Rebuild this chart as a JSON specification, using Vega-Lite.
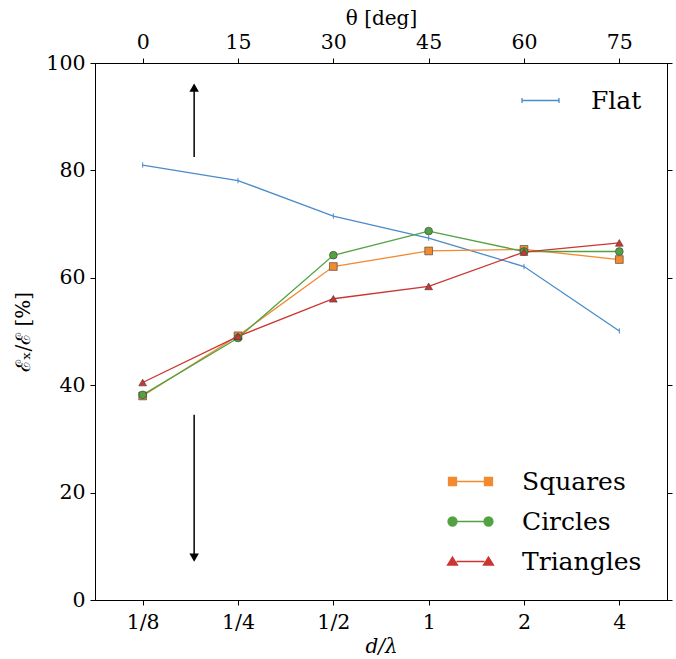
{
  "$schema": "https://vega.github.io/schema/vega-lite/v6.json",
  "width": 572,
  "height": 537,
  "autosize": "none",
  "padding": {"left": 95, "top": 63, "right": 9, "bottom": 59},
  "config": {
    "font": "DejaVu Serif",
    "view": {"stroke": "black", "strokeWidth": 1},
    "axis": {
      "labelFont": "DejaVu Serif", "labelFontSize": 20.5, "labelColor": "black",
      "titleFont": "DejaVu Serif", "titleFontSize": 20, "titleFontWeight": "normal", "titleColor": "black",
      "tickColor": "black", "domainColor": "black", "tickSize": 5, "grid": false, "labelPadding": 5
    },
    "legend": {"labelFont": "DejaVu Serif", "labelFontSize": 25, "labelColor": "black", "padding": 0}
  },
  "datasets": {
    "pts": [
      {"series": "Flat", "i": 0, "y": 81.0, "lo": 80.5, "hi": 81.5},
      {"series": "Flat", "i": 1, "y": 78.1, "lo": 77.6, "hi": 78.6},
      {"series": "Flat", "i": 2, "y": 71.5, "lo": 71.0, "hi": 72.0},
      {"series": "Flat", "i": 3, "y": 67.4, "lo": 66.9, "hi": 67.9},
      {"series": "Flat", "i": 4, "y": 62.1, "lo": 61.6, "hi": 62.6},
      {"series": "Flat", "i": 5, "y": 50.1, "lo": 49.6, "hi": 50.6},
      {"series": "Squares", "i": 0, "y": 38.0},
      {"series": "Squares", "i": 1, "y": 49.2},
      {"series": "Squares", "i": 2, "y": 62.1},
      {"series": "Squares", "i": 3, "y": 65.0},
      {"series": "Squares", "i": 4, "y": 65.3},
      {"series": "Squares", "i": 5, "y": 63.4},
      {"series": "Circles", "i": 0, "y": 38.2},
      {"series": "Circles", "i": 1, "y": 48.8},
      {"series": "Circles", "i": 2, "y": 64.2},
      {"series": "Circles", "i": 3, "y": 68.7},
      {"series": "Circles", "i": 4, "y": 64.9},
      {"series": "Circles", "i": 5, "y": 64.9},
      {"series": "Triangles", "i": 0, "y": 40.5},
      {"series": "Triangles", "i": 1, "y": 49.1},
      {"series": "Triangles", "i": 2, "y": 56.1},
      {"series": "Triangles", "i": 3, "y": 58.4},
      {"series": "Triangles", "i": 4, "y": 64.8},
      {"series": "Triangles", "i": 5, "y": 66.5}
    ],
    "arrows": [
      {"x": 0.54, "y1": 82.5, "y2": 95.0, "tip": 95.4, "dir": "triangle-up"},
      {"x": 0.54, "y1": 34.5, "y2": 8.5, "tip": 7.9, "dir": "triangle-down"}
    ]
  },
  "layer": [
    {
      "data": {"name": "pts"},
      "transform": [{"filter": "datum.series === 'Flat'"}],
      "encoding": {
        "x": {"field": "i", "type": "quantitative", "scale": {"domain": [-0.5, 5.5]}, "axis": null},
        "color": {
          "field": "series", "type": "nominal",
          "scale": {"domain": ["Flat"], "range": ["#4a8bc9"]},
          "legend": {
            "title": null, "orient": "top-right", "offset": 25, "symbolSize": 400, "labelOffset": 38,
            "encode": {"symbols": {"update": {
              "shape": {"value": "M-1.85,0H1.85M-1.85,-0.25V0.25M1.85,-0.25V0.25"},
              "stroke": {"value": "#4a8bc9"}, "fill": {"value": "transparent"},
              "strokeWidth": {"value": 1.3}, "opacity": {"value": 1}, "size": {"value": 400}
            }}}
          }
        }
      },
      "layer": [
        {"mark": {"type": "line", "strokeWidth": 1.3},
         "encoding": {"y": {"field": "y", "type": "quantitative", "axis": null}}},
        {"mark": {"type": "rule", "strokeWidth": 1},
         "encoding": {"y": {"field": "lo", "type": "quantitative", "axis": null}, "y2": {"field": "hi"}}}
      ]
    },
    {
      "data": {"name": "pts"},
      "transform": [{"filter": "datum.series !== 'Flat'"}],
      "encoding": {
        "x": {"field": "i", "type": "quantitative", "scale": {"domain": [-0.5, 5.5]}, "axis": null},
        "y": {"field": "y", "type": "quantitative", "axis": null},
        "color": {
          "field": "series", "type": "nominal",
          "scale": {"domain": ["Squares", "Circles", "Triangles"], "range": ["#f28a30", "#52a241", "#cc3530"]},
          "legend": {
            "title": null, "orient": "bottom-right", "offset": 25, "symbolSize": 400, "labelOffset": 39, "rowPadding": 14,
            "encode": {"symbols": {"update": {
              "shape": {"signal": "datum.value === 'Squares' ? 'M-1.4,0H1.4M-2.2,-0.4H-1.4V0.4H-2.2ZM1.4,-0.4H2.2V0.4H1.4Z' : datum.value === 'Circles' ? 'M-1.35,0H1.35M-1.35,0A0.45,0.45,0,1,1,-2.25,0A0.45,0.45,0,1,1,-1.35,0ZM2.25,0A0.45,0.45,0,1,1,1.35,0A0.45,0.45,0,1,1,2.25,0Z' : 'M-1.4,0H1.4M-1.8,-0.45L-1.3,0.35H-2.3ZM1.8,-0.45L2.3,0.35H1.3Z'"},
              "stroke": {"signal": "datum.value === 'Squares' ? '#f28a30' : datum.value === 'Circles' ? '#52a241' : '#cc3530'"},
              "fill": {"signal": "datum.value === 'Squares' ? '#f28a30' : datum.value === 'Circles' ? '#52a241' : '#cc3530'"},
              "strokeWidth": {"value": 1.3}, "opacity": {"value": 1}, "size": {"value": 400}
            }}}
          }
        }
      },
      "layer": [
        {"mark": {"type": "line", "strokeWidth": 1.3}},
        {"mark": {"type": "point", "filled": true, "size": 60, "stroke": "#3a3a3a", "strokeWidth": 0.6, "opacity": 1},
         "encoding": {
           "shape": {"field": "series", "type": "nominal", "legend": null,
                     "scale": {"domain": ["Squares", "Circles", "Triangles"], "range": ["square", "circle", "triangle-up"]}}
         }}
      ]
    },
    {
      "data": {"name": "arrows"},
      "mark": {"type": "rule", "color": "black", "strokeWidth": 1.5},
      "encoding": {
        "x": {"field": "x", "type": "quantitative", "axis": null},
        "y": {"field": "y1", "type": "quantitative", "axis": null},
        "y2": {"field": "y2"}
      }
    },
    {
      "data": {"name": "arrows"},
      "mark": {"type": "point", "filled": true, "color": "black", "size": 90, "opacity": 1},
      "encoding": {
        "x": {"field": "x", "type": "quantitative", "axis": null},
        "y": {"field": "tip", "type": "quantitative", "axis": null},
        "shape": {"field": "dir", "type": "nominal", "scale": null, "legend": null}
      }
    },
    {
      "data": {"name": "pts"},
      "mark": {"type": "point", "opacity": 0},
      "encoding": {
        "x": {"field": "i", "type": "quantitative",
              "axis": {"orient": "bottom", "values": [0, 1, 2, 3, 4, 5], "title": "d/λ", "titleFontStyle": "italic",
                       "labelExpr": "['1/8','1/4','1/2','1','2','4'][datum.value]", "labelPadding": 7, "titlePadding": 4}},
        "y": {"field": "y", "type": "quantitative", "scale": {"domain": [0, 100]},
              "axis": {"orient": "left", "values": [0, 20, 40, 60, 80, 100], "title": "ℰₓ/ℰ [%]", "titlePadding": 12}}
      }
    },
    {
      "data": {"name": "pts"},
      "mark": {"type": "point", "opacity": 0},
      "encoding": {
        "x": {"field": "i", "type": "quantitative",
              "axis": {"orient": "top", "values": [0, 1, 2, 3, 4, 5], "title": "θ [deg]",
                       "labelExpr": "datum.value * 15", "labelPadding": 6, "titlePadding": 4}},
        "y": {"field": "y", "type": "quantitative",
              "axis": {"orient": "right", "values": [0, 20, 40, 60, 80, 100], "labels": false, "title": null}}
      }
    }
  ],
  "resolve": {
    "scale": {"color": "independent"},
    "axis": {"x": "independent", "y": "independent"}
  }
}
